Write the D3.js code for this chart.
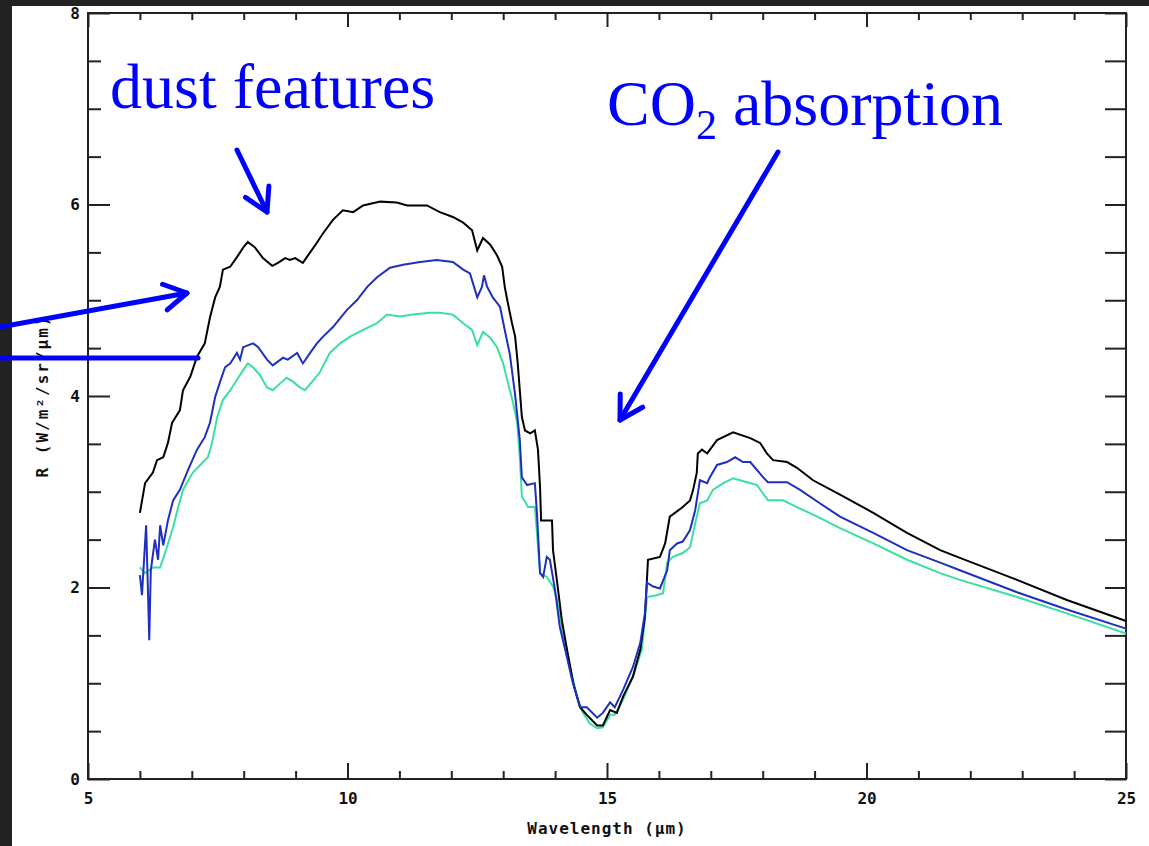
<!DOCTYPE html>
<html>
<head>
<meta charset="utf-8">
<script src="https://cdn.jsdelivr.net/npm/d3@7"></script>
<style>
  html, body { margin: 0; padding: 0; background: #222; }
  svg { display: block; }
  .tick text { font-family: "DejaVu Sans Mono", monospace; font-weight: bold; font-size: 16px; fill: #111; }
  .tick line { stroke: #222; stroke-width: 2; }
</style>
</head>
<body>
<div id="chart"></div>
<script>
const width = 1149,
  height = 846;

// spectra: [wavelength (um), R (W/m2/sr/um)]
const blackSeries = [
  [6.0, 2.78], [6.1, 3.09], [6.25, 3.2], [6.33, 3.33], [6.45, 3.36], [6.54, 3.51], [6.62, 3.72],
  [6.77, 3.85], [6.83, 4.06], [6.97, 4.2], [7.1, 4.41], [7.25, 4.55], [7.35, 4.82], [7.45, 5.03],
  [7.54, 5.14], [7.6, 5.32], [7.74, 5.35], [7.87, 5.45], [7.99, 5.55], [8.08, 5.61], [8.22, 5.55],
  [8.37, 5.44], [8.55, 5.36], [8.66, 5.39], [8.8, 5.44], [8.89, 5.42], [8.99, 5.44], [9.14, 5.39],
  [9.28, 5.5], [9.41, 5.6], [9.53, 5.7], [9.72, 5.84], [9.91, 5.94], [10.11, 5.92], [10.3, 5.99],
  [10.63, 6.03], [10.95, 6.02], [11.15, 5.99], [11.53, 5.99], [11.78, 5.92], [12.03, 5.87],
  [12.23, 5.81], [12.4, 5.73], [12.5, 5.52], [12.61, 5.65], [12.75, 5.58], [12.88, 5.47],
  [12.98, 5.35], [13.03, 5.14], [13.09, 4.97], [13.17, 4.76], [13.23, 4.62], [13.28, 4.34],
  [13.32, 4.06], [13.36, 3.78], [13.42, 3.64], [13.52, 3.61], [13.61, 3.64], [13.67, 3.44],
  [13.71, 3.05], [13.73, 2.7], [13.94, 2.7], [13.96, 2.39], [14.04, 2.05], [14.13, 1.66],
  [14.23, 1.35], [14.35, 1.0], [14.48, 0.75], [14.61, 0.67], [14.81, 0.56], [14.92, 0.56],
  [15.06, 0.72], [15.19, 0.69], [15.31, 0.86], [15.5, 1.07], [15.64, 1.35], [15.73, 1.69],
  [15.79, 2.29], [16.02, 2.32], [16.12, 2.46], [16.21, 2.74], [16.46, 2.84], [16.6, 2.91],
  [16.66, 3.02], [16.73, 3.2], [16.75, 3.4], [16.83, 3.44], [16.93, 3.4], [17.12, 3.54],
  [17.43, 3.62], [17.76, 3.56], [17.95, 3.51], [18.08, 3.4], [18.2, 3.33], [18.47, 3.31],
  [18.66, 3.25], [18.97, 3.12], [19.49, 2.97], [20.13, 2.78], [20.78, 2.57], [21.42, 2.39],
  [21.8, 2.31], [22.9, 2.08], [23.86, 1.87], [25.0, 1.65]
];
const blueSeries = [
  [6.0, 2.13], [6.04, 1.92], [6.08, 2.29], [6.12, 2.65], [6.16, 1.87], [6.18, 1.45], [6.21, 2.18],
  [6.29, 2.5], [6.35, 2.29], [6.39, 2.65], [6.45, 2.44], [6.54, 2.7], [6.64, 2.91], [6.77, 3.02],
  [6.93, 3.23], [7.1, 3.44], [7.25, 3.57], [7.35, 3.72], [7.45, 3.99], [7.54, 4.14], [7.64, 4.3],
  [7.74, 4.34], [7.87, 4.45], [7.93, 4.38], [7.99, 4.51], [8.18, 4.55], [8.28, 4.51], [8.45, 4.38],
  [8.56, 4.32], [8.76, 4.4], [8.85, 4.38], [9.03, 4.45], [9.14, 4.34], [9.28, 4.45], [9.41, 4.55],
  [9.53, 4.62], [9.72, 4.72], [9.99, 4.9], [10.18, 5.0], [10.38, 5.14], [10.57, 5.24], [10.82, 5.34],
  [11.07, 5.37], [11.4, 5.4], [11.72, 5.42], [12.03, 5.4], [12.23, 5.32], [12.36, 5.28], [12.5, 5.03],
  [12.59, 5.14], [12.63, 5.26], [12.69, 5.14], [12.8, 5.03], [12.94, 4.93], [13.03, 4.69],
  [13.13, 4.43], [13.23, 4.01], [13.32, 3.54], [13.36, 3.15], [13.46, 3.07], [13.61, 3.09],
  [13.65, 2.78], [13.71, 2.15], [13.77, 2.11], [13.84, 2.32], [13.9, 2.29], [14.0, 1.97],
  [14.09, 1.59], [14.23, 1.27], [14.33, 1.03], [14.48, 0.75], [14.61, 0.75], [14.81, 0.64],
  [14.92, 0.69], [15.06, 0.8], [15.15, 0.75], [15.31, 0.93], [15.5, 1.17], [15.64, 1.42],
  [15.73, 1.73], [15.77, 2.05], [15.89, 2.01], [16.02, 1.99], [16.16, 2.18], [16.21, 2.39],
  [16.35, 2.46], [16.46, 2.48], [16.6, 2.6], [16.7, 2.81], [16.79, 3.12], [16.93, 3.09],
  [16.98, 3.15], [17.12, 3.28], [17.31, 3.31], [17.47, 3.36], [17.62, 3.31], [17.76, 3.31],
  [18.01, 3.15], [18.1, 3.1], [18.47, 3.1], [18.72, 3.02], [19.1, 2.88], [19.49, 2.74],
  [20.13, 2.57], [20.78, 2.39], [21.42, 2.26], [21.8, 2.18], [22.9, 1.95], [23.86, 1.77], [25.0, 1.57]
];
const greenSeries = [
  [6.0, 2.21], [6.1, 2.15], [6.25, 2.21], [6.39, 2.21], [6.52, 2.42], [6.64, 2.63], [6.71, 2.78],
  [6.83, 3.02], [7.02, 3.2], [7.2, 3.3], [7.31, 3.36], [7.39, 3.51], [7.49, 3.78], [7.6, 3.96],
  [7.74, 4.06], [7.87, 4.17], [7.99, 4.27], [8.08, 4.34], [8.18, 4.3], [8.31, 4.22], [8.45, 4.09],
  [8.56, 4.06], [8.74, 4.15], [8.83, 4.19], [8.95, 4.15], [9.08, 4.09], [9.18, 4.06], [9.32, 4.15],
  [9.47, 4.25], [9.66, 4.45], [9.86, 4.55], [10.05, 4.62], [10.3, 4.69], [10.57, 4.76], [10.76, 4.85],
  [11.01, 4.83], [11.26, 4.85], [11.59, 4.87], [11.78, 4.87], [12.03, 4.85], [12.23, 4.76],
  [12.4, 4.69], [12.5, 4.53], [12.61, 4.67], [12.75, 4.61], [12.88, 4.51], [13.0, 4.34],
  [13.09, 4.14], [13.19, 3.93], [13.27, 3.72], [13.32, 3.36], [13.36, 2.95], [13.48, 2.84],
  [13.61, 2.84], [13.65, 2.57], [13.71, 2.15], [13.84, 2.11], [13.96, 2.01], [14.04, 1.87],
  [14.15, 1.52], [14.29, 1.17], [14.42, 0.86], [14.54, 0.69], [14.67, 0.58], [14.81, 0.53],
  [14.92, 0.54], [15.06, 0.67], [15.15, 0.67], [15.31, 0.83], [15.5, 1.07], [15.67, 1.35],
  [15.73, 1.66], [15.77, 1.9], [15.96, 1.92], [16.08, 1.94], [16.16, 2.26], [16.27, 2.32],
  [16.46, 2.36], [16.6, 2.42], [16.7, 2.67], [16.79, 2.88], [16.93, 2.91], [17.04, 3.02],
  [17.24, 3.09], [17.43, 3.14], [17.7, 3.1], [17.89, 3.07], [18.1, 2.91], [18.39, 2.91],
  [18.66, 2.84], [19.05, 2.74], [19.49, 2.62], [20.13, 2.46], [20.78, 2.29], [21.42, 2.15],
  [21.8, 2.08], [22.9, 1.9], [23.86, 1.73], [25.0, 1.52]
];

const xMajor = [5, 10, 15, 20, 25];
const xMinor = d3.range(6, 25).filter((v) => v % 5 !== 0);
const yMajor = [0, 2, 4, 6, 8];
const yMinor = d3.range(0.5, 8, 0.5).filter((v) => v % 2 !== 0);

const svg = d3
  .select("#chart")
  .append("svg")
  .attr("width", width)
  .attr("height", height);

// white paper on the dark slide
svg.append("rect").attr("x", 12).attr("y", 6).attr("width", width - 12).attr("height", height - 6).attr("fill", "#fff");

const x = d3.scaleLinear().domain([5, 25]).range([88, 1126]);
const y = d3.scaleLinear().domain([0, 8]).range([779, 13]);

// axes: ticks point inward on all four sides
function axisGroup(axis, tx, ty) {
  const g = svg.append("g").attr("transform", `translate(${tx},${ty})`).call(axis);
  g.select(".domain").remove();
  return g;
}
axisGroup(d3.axisBottom(x).tickValues(xMajor).tickSize(-16).tickPadding(14).tickFormat(d3.format("d")), 0, 779);
axisGroup(d3.axisBottom(x).tickValues(xMinor).tickSize(-8).tickFormat(""), 0, 779);
axisGroup(d3.axisTop(x).tickValues(xMajor).tickSize(-14).tickFormat(""), 0, 13);
axisGroup(d3.axisTop(x).tickValues(xMinor).tickSize(-7).tickFormat(""), 0, 13);
axisGroup(d3.axisLeft(y).tickValues(yMajor).tickSize(-22).tickPadding(8).tickFormat(d3.format("d")), 88, 0);
axisGroup(d3.axisLeft(y).tickValues(yMinor).tickSize(-13).tickFormat(""), 88, 0);
axisGroup(d3.axisRight(y).tickValues(yMajor.concat(yMinor)).tickSize(-21).tickFormat(""), 1126, 0);

svg
  .append("rect")
  .attr("x", x(5))
  .attr("y", y(8))
  .attr("width", x(25) - x(5))
  .attr("height", y(0) - y(8))
  .attr("fill", "none")
  .attr("stroke", "#222")
  .attr("stroke-width", 2);

svg
  .append("text")
  .attr("x", x(15))
  .attr("y", 834)
  .attr("text-anchor", "middle")
  .style("font-family", "DejaVu Sans Mono, monospace")
  .style("font-weight", "bold")
  .style("font-size", "16px")
  .style("letter-spacing", "1px")
  .attr("fill", "#111")
  .text("Wavelength (μm)");

svg
  .append("text")
  .attr("transform", `translate(48,${y(4)}) rotate(-90)`)
  .attr("text-anchor", "middle")
  .style("font-family", "DejaVu Sans Mono, monospace")
  .style("font-weight", "bold")
  .style("font-size", "16px")
  .style("letter-spacing", "2px")
  .attr("fill", "#111")
  .text("R (W/m²/sr/μm)");

// spectra
const line = d3
  .line()
  .x((d) => x(d[0]))
  .y((d) => y(d[1]));

[
  [greenSeries, "#38e0a0"],
  [blackSeries, "#000"],
  [blueSeries, "#1f2fbf"],
].forEach(([data, color]) => {
  svg
    .append("path")
    .datum(data)
    .attr("fill", "none")
    .attr("stroke", color)
    .attr("stroke-width", 2)
    .attr("stroke-linejoin", "miter")
    .attr("d", line);
});

// annotations
const blue = "#0000ff";
svg
  .append("text")
  .attr("x", 110)
  .attr("y", 108)
  .style("font-family", "Liberation Serif, Times New Roman, serif")
  .style("font-size", "64px")
  .attr("fill", blue)
  .text("dust features");

const co2 = svg
  .append("text")
  .attr("x", 607)
  .attr("y", 125)
  .style("font-family", "Liberation Serif, Times New Roman, serif")
  .style("font-size", "64px")
  .attr("fill", blue);
co2.append("tspan").text("CO");
co2.append("tspan").attr("dy", 14).style("font-size", "42px").text("2");
co2.append("tspan").attr("dy", -14).text(" absorption");

function arrow(x1, y1, x2, y2, head) {
  svg
    .append("line")
    .attr("x1", x1).attr("y1", y1).attr("x2", x2).attr("y2", y2)
    .attr("stroke", blue)
    .attr("stroke-width", 5)
    .attr("stroke-linecap", "round");
  if (!head) return;
  const a = Math.atan2(y2 - y1, x2 - x1);
  const len = 26,
    spread = Math.PI / 6;
  const pts = [
    [x2 - len * Math.cos(a - spread), y2 - len * Math.sin(a - spread)],
    [x2, y2],
    [x2 - len * Math.cos(a + spread), y2 - len * Math.sin(a + spread)],
  ];
  svg
    .append("path")
    .attr("d", d3.line()(pts))
    .attr("fill", "none")
    .attr("stroke", blue)
    .attr("stroke-width", 5)
    .attr("stroke-linecap", "round")
    .attr("stroke-linejoin", "round");
}
arrow(237, 150, 267, 212, true);
arrow(778, 152, 620, 420, true);
arrow(0, 327, 187, 293, true);
arrow(0, 358, 198, 358, false);
</script>
</body>
</html>
